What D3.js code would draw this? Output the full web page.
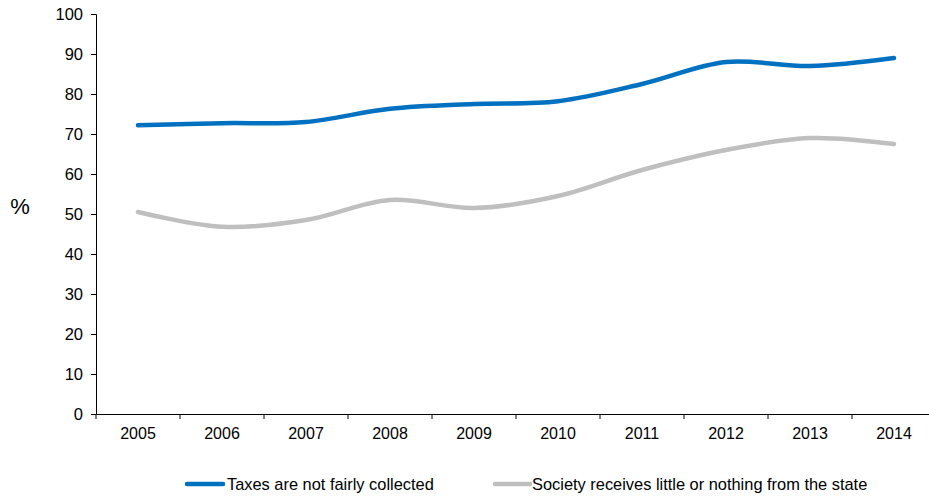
<!DOCTYPE html>
<html><head><meta charset="utf-8">
<script src="https://cdn.jsdelivr.net/npm/d3@7"></script>
<style>body{margin:0;background:#fff;} svg{display:block;font-family:"Liberation Sans",Arial,sans-serif;}</style>
</head><body>
<svg id="c" width="929" height="497"></svg>
<script>
const years = ["2005","2006","2007","2008","2009","2010","2011","2012","2013","2014"];
const taxes = [72.2,72.7,73.0,76.3,77.5,78.2,82.5,88.0,87.0,89.0];
const society = [50.5,46.8,48.5,53.5,51.5,54.5,61.0,66.0,69.0,67.5];
const yTicks = [0,10,20,30,40,50,60,70,80,90,100];
const seriesNames = ["Taxes are not fairly collected","Society receives little or nothing from the state"];
const colors = ["#0070C0","#BFBFBF"];

const svg = d3.select("#c");
const x = d3.scaleBand().domain(years).range([96, 936]);
const y = d3.scaleLinear().domain([0,100]).range([414, 14]);

const yAxis = svg.append("g").attr("transform","translate(96,0)")
  .call(d3.axisLeft(y).tickValues(yTicks).tickSize(5).tickPadding(8));
yAxis.select(".domain").attr("stroke","#000");
yAxis.selectAll("text").attr("font-size",16.5).attr("fill","#000").attr("font-family","Liberation Sans, Arial, sans-serif");

const xAxis = svg.append("g").attr("transform","translate(0,414)")
  .call(d3.axisBottom(x).tickSize(0).tickPadding(14));
xAxis.select(".domain").attr("stroke","#000");
xAxis.selectAll("text").attr("font-size",16).attr("fill","#000").attr("font-family","Liberation Sans, Arial, sans-serif");
xAxis.selectAll(".bt").data(years.concat(["end"])).enter().append("line")
  .attr("x1",(d,i)=>x.range()[0]+i*x.bandwidth()).attr("x2",(d,i)=>x.range()[0]+i*x.bandwidth())
  .attr("y1",0).attr("y2",5).attr("stroke","#000");

svg.append("text").attr("x",20).attr("y",214).attr("text-anchor","middle")
  .attr("font-size",22).text("%");

const line = d3.line().x((d,i)=>x(years[i])+x.bandwidth()/2).y(d=>y(d))
  .curve(d3.curveCatmullRom.alpha(0.5));
[taxes, society].forEach((s,k)=>{
  svg.append("path").attr("d", line(s)).attr("fill","none")
    .attr("stroke", colors[k]).attr("stroke-width",4.5).attr("stroke-linecap","round");
});

const leg = [{x1:187,x2:223,tx:227},{x1:495,x2:530,tx:532}];
leg.forEach((l,k)=>{
  svg.append("line").attr("x1",l.x1).attr("x2",l.x2).attr("y1",484).attr("y2",484)
    .attr("stroke",colors[k]).attr("stroke-width",4.5).attr("stroke-linecap","round");
  svg.append("text").attr("x",l.tx).attr("y",490).attr("font-size",16.4).text(seriesNames[k]);
});
</script>
</body></html>
